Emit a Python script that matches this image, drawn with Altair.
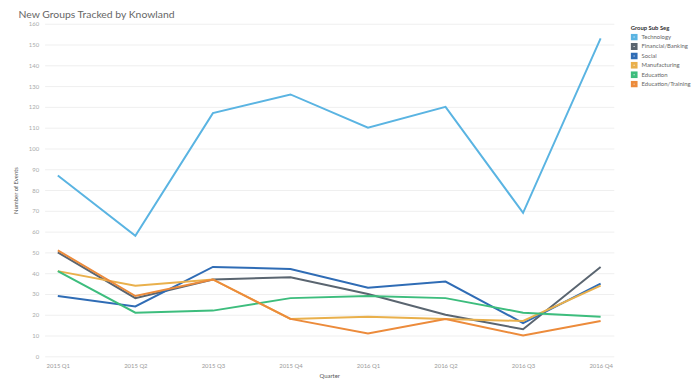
import altair as alt
import pandas as pd

quarters = ["2015 Q1", "2015 Q2", "2015 Q3", "2015 Q4", "2016 Q1", "2016 Q2", "2016 Q3", "2016 Q4"]
segments = ["Technology", "Financial/Banking", "Social", "Manufacturing", "Education", "Education/Training"]
technology = [87, 58, 117, 126, 110, 120, 69, 153]
financial = [50, 28, 37, 38, 30, 20, 13, 43]
social = [29, 24, 43, 42, 33, 36, 16, 35]
manufacturing = [41, 34, 37, 18, 19, 18, 17, 34]
education = [41, 21, 22, 28, 29, 28, 21, 19]
edu_training = [51, 29, 37, 18, 11, 18, 10, 17]
colors = ["#5ab4e2", "#5a6570", "#2f6cb5", "#e9b04c", "#3dbd7d", "#ec8b3b"]

series = [technology, financial, social, manufacturing, education, edu_training]
rows = []
for si, (seg, vals) in enumerate(zip(segments, series)):
    for q, v in zip(quarters, vals):
        rows.append({"Quarter": q, "Segment": seg, "Events": v, "ord": si})
df = pd.DataFrame(rows)

FONT = "Lato"

chart = alt.Chart(df).mark_line(strokeWidth=2).encode(
    x=alt.X("Quarter:O", sort=quarters,
            scale=alt.Scale(type="point", padding=0.17),
            axis=alt.Axis(title="Quarter", labelAngle=0, labelFontSize=6, labelColor="#999",
                          titleFontSize=6, titleColor="#555", titleFontWeight="normal",
                          domain=False, ticks=False, grid=False, labelPadding=6, titlePadding=4)),
    y=alt.Y("Events:Q", scale=alt.Scale(domain=[0, 160], nice=False),
            axis=alt.Axis(title="Number of Events", values=list(range(0, 170, 10)),
                          labelFontSize=6, labelColor="#aaa", titleFontSize=6, titleColor="#555",
                          titleFontWeight="normal", domain=False, ticks=False,
                          gridColor="#efefef", gridWidth=1, labelPadding=6, titlePadding=10)),
    color=alt.Color("Segment:N", sort=segments,
                    scale=alt.Scale(domain=segments, range=colors),
                    legend=alt.Legend(title="Group Sub Seg", orient="none", legendX=592, legendY=1,
                                      symbolType="square", symbolSize=16, symbolStrokeWidth=3,
                                      labelFontSize=6, labelColor="#666", titleFontSize=6,
                                      titleColor="#333", titleFontWeight="bold", rowPadding=2.5,
                                      clipHeight=7, titlePadding=3, labelLimit=200)),
    order=alt.Order("ord:Q"),
    detail="Segment:N",
).properties(
    width=575,
    height=336,
    autosize=alt.AutoSizeParams(type="none"),
    padding={"left": 37, "top": 14, "right": 79, "bottom": 22},
    title=alt.TitleParams("New Groups Tracked by Knowland", anchor="start", fontSize=10.5,
                          color="#666", font=FONT, fontWeight="normal", offset=0, dx=6),
).configure(font=FONT).configure_view(stroke=None)

chart.save("out.html", embed_options={"renderer": "svg", "actions": False})
